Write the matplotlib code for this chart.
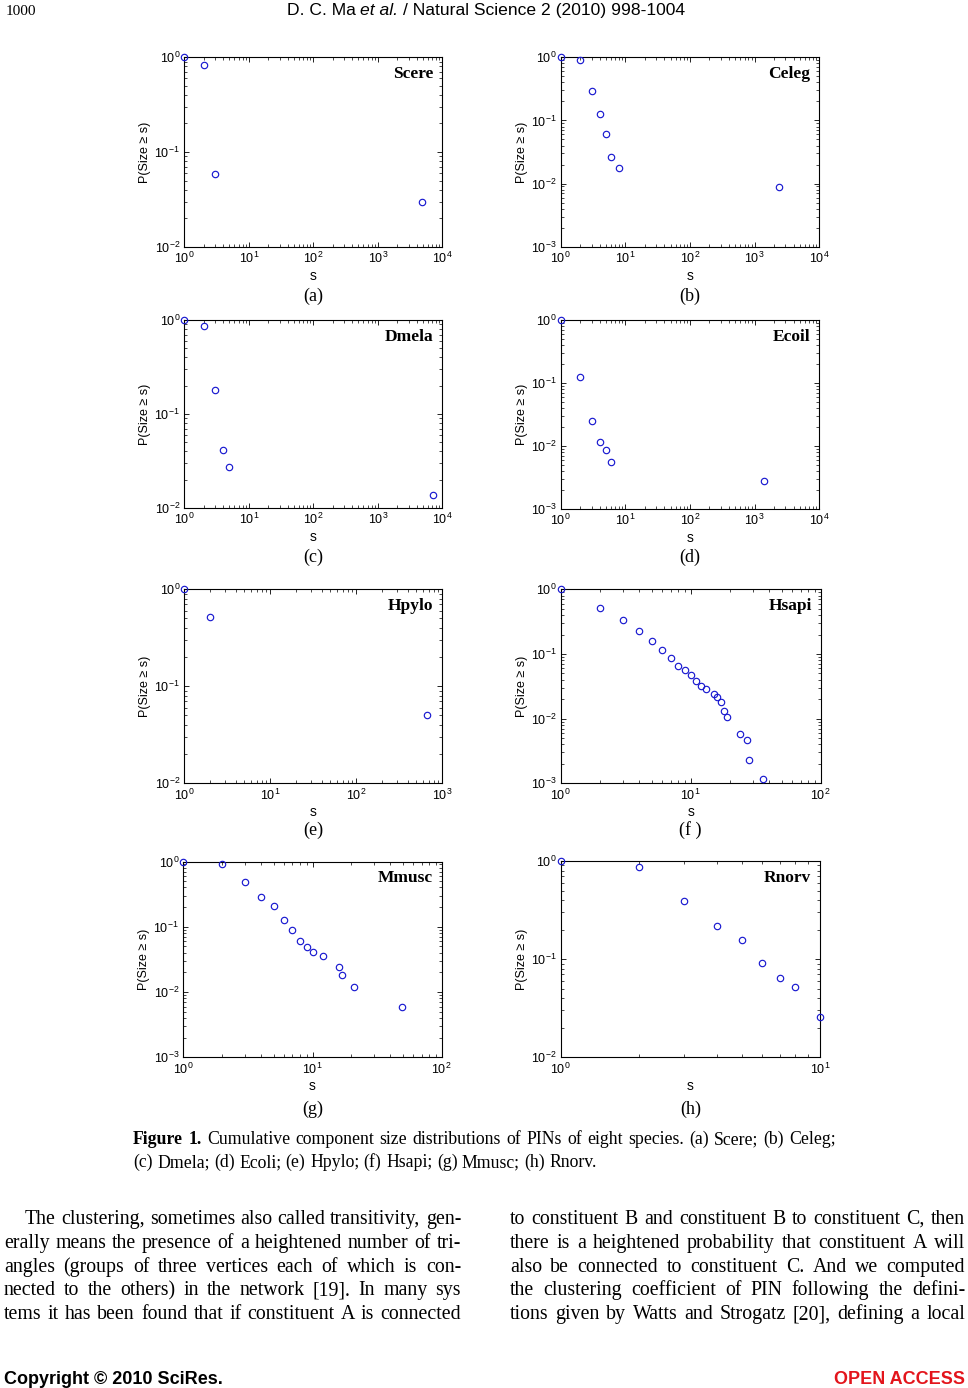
import numpy as np
import matplotlib
matplotlib.use("Agg")
import matplotlib.pyplot as plt
from matplotlib.ticker import LogLocator, NullFormatter, LogFormatterSciNotation
from matplotlib.transforms import offset_copy

# ---------------- data ----------------
species = ["Scere", "Celeg", "Dmela", "Ecoil", "Hpylo", "Hsapi", "Mmusc", "Rnorv"]
panel_tags = ["(a)", "(b)", "(c)", "(d)", "(e)", "(f )", "(g)", "(h)"]

scere_s = [1, 2, 3, 4840]
scere_p = [1.0, 0.823, 0.058, 0.0294]
celeg_s = [1, 2, 3, 4, 5, 6, 8, 2350]
celeg_p = [1.0, 0.907, 0.293, 0.125, 0.0617, 0.0267, 0.0178, 0.0088]
dmela_s = [1, 2, 3, 4, 5, 7170]
dmela_p = [1.0, 0.863, 0.178, 0.0419, 0.0273, 0.01365]
ecoli_s = [1, 2, 3, 4, 5, 6, 1394]
ecoli_p = [1.0, 0.123, 0.0249, 0.01157, 0.00853, 0.00564, 0.00278]
hpylo_s = [1, 2, 670]
hpylo_p = [1.0, 0.523, 0.0506]
hsapi_s = [1, 2, 3, 4, 5, 6, 7, 8, 9, 10, 11, 12, 13, 15, 16, 17, 18, 19, 24, 27, 28, 36]
hsapi_p = [1.0, 0.52, 0.34, 0.224, 0.161, 0.115, 0.0878, 0.066, 0.0559, 0.0468, 0.0382,
           0.0324, 0.0288, 0.0238, 0.0216, 0.0181, 0.0130, 0.0106, 0.00586, 0.00462,
           0.0023, 0.00115]
mmusc_s = [1, 2, 3, 4, 5, 6, 7, 8, 9, 10, 12, 16, 17, 21, 49]
mmusc_p = [1.0, 0.91, 0.482, 0.281, 0.2115, 0.1276, 0.0907, 0.0608, 0.0486, 0.0417,
           0.0362, 0.0243, 0.0181, 0.012, 0.00598]
rnorv_s = [1, 2, 3, 4, 5, 6, 7, 8, 10]
rnorv_p = [1.0, 0.862, 0.391, 0.218, 0.155, 0.0907, 0.0648, 0.0516, 0.0258]

series_s = [scere_s, celeg_s, dmela_s, ecoli_s, hpylo_s, hsapi_s, mmusc_s, rnorv_s]
series_p = [scere_p, celeg_p, dmela_p, ecoli_p, hpylo_p, hsapi_p, mmusc_p, rnorv_p]
x_max = [1e4, 1e4, 1e4, 1e4, 1e3, 1e2, 1e2, 1e1]
y_min = [1e-2, 1e-3, 1e-2, 1e-3, 1e-2, 1e-3, 1e-3, 1e-2]

x_label = "s"
y_label = "P(Size \u2265 s)"

header_left = "1000"
header_runs = [("D. C. Ma", "normal"), ("et al.", "italic"),
               ("/ Natural Science 2 (2010) 998-1004", "normal")]
caption_line1 = "Figure 1. Cumulative component size distributions of PINs of eight species. (a) Scere; (b) Celeg;"
caption_line2 = "(c) Dmela; (d) Ecoli; (e) Hpylo; (f) Hsapi; (g) Mmusc; (h) Rnorv."
left_col = [
    "The clustering, sometimes also called transitivity, gen-",
    "erally means the presence of a heightened number of tri-",
    "angles (groups of three vertices each of which is con-",
    "nected to the others) in the network [19]. In many sys",
    "tems it has been found that if constituent A is connected",
]
right_col = [
    "to constituent B and constituent B to constituent C, then",
    "there is a heightened probability that constituent A will",
    "also be connected to constituent C. And we computed",
    "the clustering coefficient of PIN following the defini-",
    "tions given by Watts and Strogatz [20], defining a local",
]
footer_left = "Copyright \u00a9 2010 SciRes."
footer_right = "OPEN ACCESS"

# ---------------- layout (pixels) ----------------
W, H, DPI = 968, 1388, 100
# (left, top, right, bottom)
boxes = [
    (184.3, 57.3, 442.3, 246.7), (560.7, 57.3, 819.3, 246.7),
    (184.3, 320.0, 442.3, 508.0), (560.7, 320.0, 819.3, 509.0),
    (184.3, 589.3, 442.3, 783.3), (560.7, 589.3, 820.7, 783.3),
    (183.3, 861.5, 441.7, 1057.3), (560.7, 861.0, 820.0, 1057.3),
]
tag_y = [296, 296, 557, 557, 830, 830, 1109, 1109]

SANS = ["Liberation Sans", "DejaVu Sans"]
SERIF = ["Liberation Serif", "DejaVu Serif"]

plt.rcParams["font.family"] = SANS
plt.rcParams["mathtext.default"] = "regular"

fig = plt.figure(figsize=(W / DPI, H / DPI), dpi=DPI)
fig.patch.set_facecolor("white")


def fx(x):
    return x / W


def fy(y):
    return 1 - y / H


for i in range(8):
    l, t, r, b = boxes[i]
    ax = fig.add_axes([fx(l), fy(b), (r - l) / W, (b - t) / H])
    ax.loglog(series_s[i], series_p[i], linestyle="none", marker="o",
              markersize=4.6, markerfacecolor="none", markeredgecolor="#1a1ad0",
              markeredgewidth=0.85, clip_on=False, zorder=5)
    ax.set_xlim(1, x_max[i])
    ax.set_ylim(y_min[i], 1)
    for axis in (ax.xaxis, ax.yaxis):
        axis.set_major_locator(LogLocator(base=10, numticks=10))
        axis.set_minor_locator(LogLocator(base=10, subs=np.arange(2, 10), numticks=20))
        axis.set_major_formatter(LogFormatterSciNotation())
        axis.set_minor_formatter(NullFormatter())
    ax.tick_params(which="both", direction="in", top=True, right=True,
                   labelsize=9, colors="black")
    ax.tick_params(which="major", length=3.5, width=0.6, pad=3)
    ax.tick_params(which="minor", length=2.0, width=0.5)
    for sp in ax.spines.values():
        sp.set_linewidth(0.8)
    ax.set_xlabel(x_label, fontsize=10, va="center")
    ax.xaxis.set_label_coords(0.5, 0, transform=offset_copy(ax.transAxes, fig, x=0, y=-29, units="dots"))
    ax.set_ylabel(y_label, fontsize=9, va="center")
    ax.yaxis.set_label_coords(0, 0.5, transform=offset_copy(ax.transAxes, fig, x=-39, y=0, units="dots"))
    ax.text(1, 1, species[i], transform=offset_copy(ax.transAxes, fig, x=-9, y=-17, units="dots"),
            ha="right", va="center", fontsize=12.5, fontweight="bold", family=SERIF)
    fig.text(fx((l + r) / 2), fy(tag_y[i]), panel_tags[i], ha="center", va="center",
             fontsize=13, family=SERIF)

# ---------------- page text ----------------
fig.canvas.draw()
renderer = fig.canvas.get_renderer()


def text_width(s, **kw):
    t = fig.text(0, 0, s, **kw)
    w = t.get_window_extent(renderer).width
    t.remove()
    return w


def space_width(**kw):
    return text_width("a a", **kw) - text_width("aa", **kw)


def place_line(words, x0, x1, y, justify=True, **kw):
    objs, widths = [], []
    for w, st in words:
        t = fig.text(0, fy(y), w, va="baseline", ha="left", **{**kw, **st})
        objs.append(t)
        widths.append(t.get_window_extent(renderer).width)
    if justify and len(objs) > 1:
        gap = (x1 - x0 - sum(widths)) / (len(objs) - 1)
    else:
        gap = space_width(**kw)
    x = x0
    for t, w in zip(objs, widths):
        t.set_x(fx(x))
        x += w + gap


# header
fig.text(fx(6), fy(15), header_left, family=SERIF, fontsize=11, va="baseline", ha="left")
hkw = dict(family=SANS, fontsize=12.6)
hw = [text_width(s, style=st, **hkw) for s, st in header_runs]
hsp = space_width(**hkw)
total = sum(hw) + hsp * (len(hw) - 1)
x = 486 - total / 2
for (s, st), w in zip(header_runs, hw):
    fig.text(fx(x), fy(15), s, style=st, va="baseline", ha="left", **hkw)
    x += w + hsp

# caption
cap1_words = caption_line1.split(" ")
cap1 = [(w, {"fontweight": "bold"} if k < 2 else {}) for k, w in enumerate(cap1_words)]
place_line(cap1, 133, 836, 1144, justify=True, family=SERIF, fontsize=12.8)
cap2 = [(w, {}) for w in caption_line2.split(" ")]
place_line(cap2, 133, 836, 1167, justify=False, family=SERIF, fontsize=12.8)

# body text
base0, step = 1224, 23.8
for k, line in enumerate(left_col):
    x0 = 25 if k == 0 else 4
    place_line([(w, {}) for w in line.split(" ")], x0, 461, base0 + k * step,
               family=SERIF, fontsize=14.3)
for k, line in enumerate(right_col):
    place_line([(w, {}) for w in line.split(" ")], 510, 965, base0 + k * step,
               family=SERIF, fontsize=14.3)

# footer
fig.text(fx(4), fy(1384), footer_left, family=SANS, fontsize=13, fontweight="bold",
         va="baseline", ha="left")
fig.text(fx(965), fy(1384), footer_right, family=SANS, fontsize=13, fontweight="bold",
         color="#e3151c", va="baseline", ha="right")

fig.savefig("out.png", dpi=DPI, facecolor="white")
